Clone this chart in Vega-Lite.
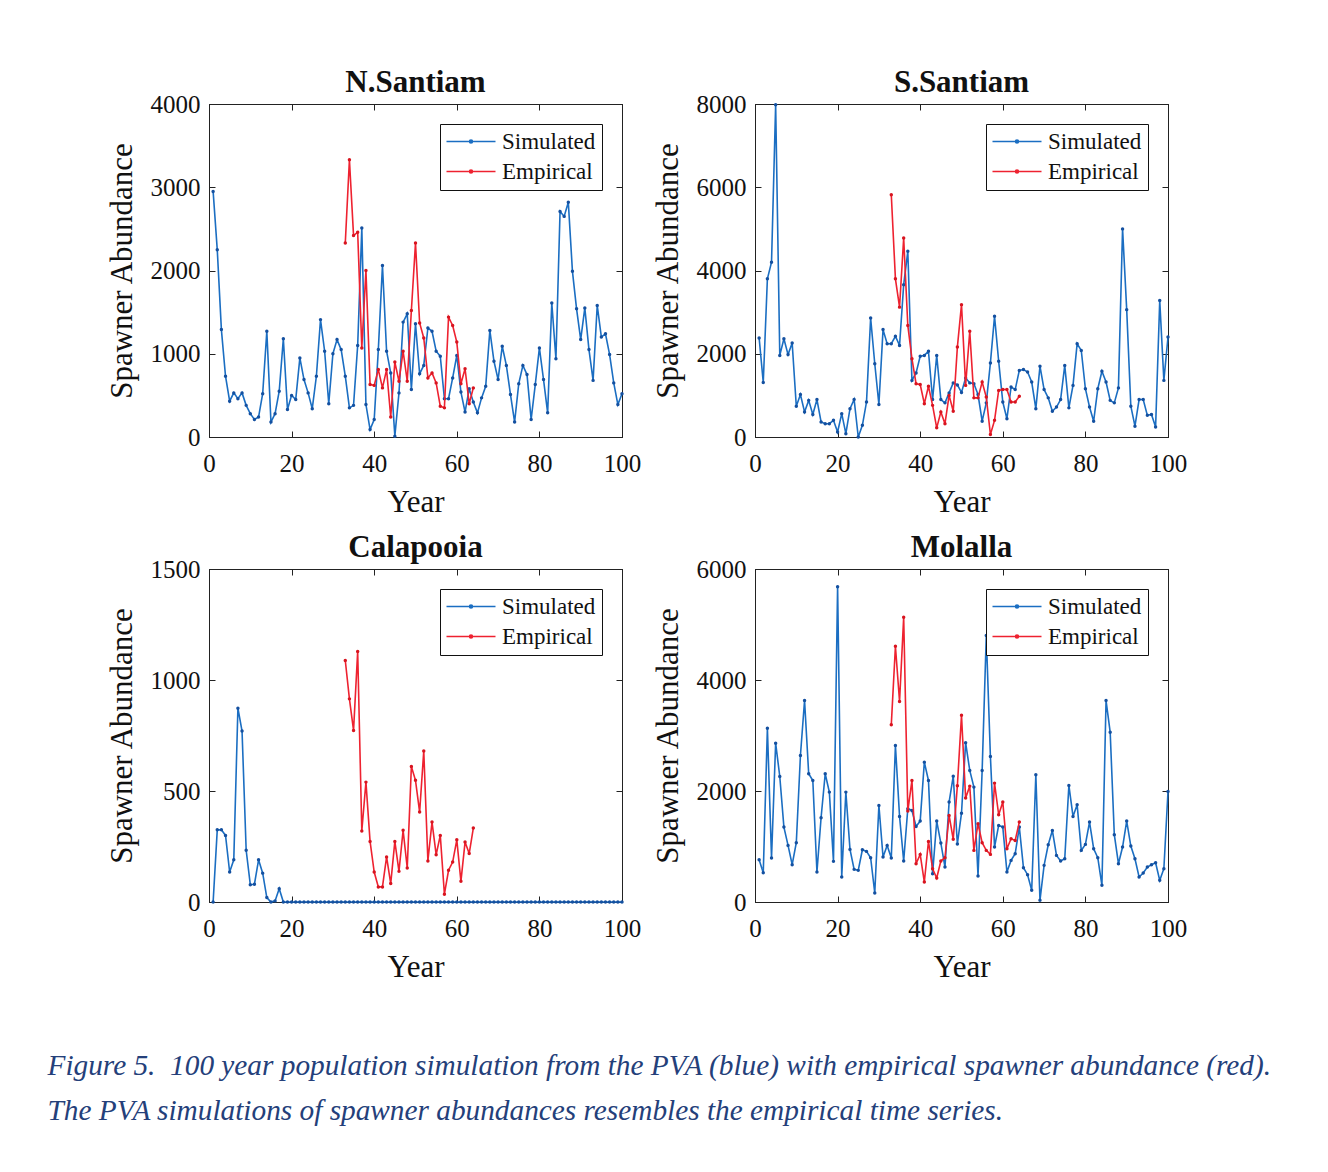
{
  "$schema": "https://vega.github.io/schema/vega-lite/v6.json",
  "background": "white",
  "padding": {"left": 47, "top": 66, "right": 20, "bottom": 20},
  "title": {
    "text": ["Figure 5.\u00a0 100 year population simulation from the PVA (blue) with empirical spawner abundance (red).", "The PVA simulations of spawner abundances resembles the empirical time series."],
    "orient": "bottom", "anchor": "start", "frame": "bounds",
    "font": "Liberation Serif", "fontStyle": "italic", "fontWeight": "normal", "fontSize": 29.3,
    "color": "#24407a", "lineHeight": 45, "offset": 69, "dx": -58
  },
  "datasets": {
    "ns": [
      {"s":"Simulated","x":1,"y":2950},{"s":"Simulated","x":2,"y":2250},{"s":"Simulated","x":3,"y":1290},{"s":"Simulated","x":4,"y":730},{"s":"Simulated","x":5,"y":430},{"s":"Simulated","x":6,"y":530},{"s":"Simulated","x":7,"y":460},{"s":"Simulated","x":8,"y":530},{"s":"Simulated","x":9,"y":380},{"s":"Simulated","x":10,"y":280},
      {"s":"Simulated","x":11,"y":210},{"s":"Simulated","x":12,"y":240},{"s":"Simulated","x":13,"y":520},{"s":"Simulated","x":14,"y":1270},{"s":"Simulated","x":15,"y":180},{"s":"Simulated","x":16,"y":280},{"s":"Simulated","x":17,"y":550},{"s":"Simulated","x":18,"y":1180},{"s":"Simulated","x":19,"y":330},{"s":"Simulated","x":20,"y":500},
      {"s":"Simulated","x":21,"y":450},{"s":"Simulated","x":22,"y":950},{"s":"Simulated","x":23,"y":690},{"s":"Simulated","x":24,"y":530},{"s":"Simulated","x":25,"y":340},{"s":"Simulated","x":26,"y":730},{"s":"Simulated","x":27,"y":1410},{"s":"Simulated","x":28,"y":1030},{"s":"Simulated","x":29,"y":400},{"s":"Simulated","x":30,"y":1000},
      {"s":"Simulated","x":31,"y":1170},{"s":"Simulated","x":32,"y":1050},{"s":"Simulated","x":33,"y":730},{"s":"Simulated","x":34,"y":350},{"s":"Simulated","x":35,"y":380},{"s":"Simulated","x":36,"y":1100},{"s":"Simulated","x":37,"y":2510},{"s":"Simulated","x":38,"y":390},{"s":"Simulated","x":39,"y":90},{"s":"Simulated","x":40,"y":210},
      {"s":"Simulated","x":41,"y":1050},{"s":"Simulated","x":42,"y":2060},{"s":"Simulated","x":43,"y":1030},{"s":"Simulated","x":44,"y":770},{"s":"Simulated","x":45,"y":10},{"s":"Simulated","x":46,"y":530},{"s":"Simulated","x":47,"y":1380},{"s":"Simulated","x":48,"y":1480},{"s":"Simulated","x":49,"y":570},{"s":"Simulated","x":50,"y":1360},
      {"s":"Simulated","x":51,"y":760},{"s":"Simulated","x":52,"y":860},{"s":"Simulated","x":53,"y":1310},{"s":"Simulated","x":54,"y":1270},{"s":"Simulated","x":55,"y":1030},{"s":"Simulated","x":56,"y":970},{"s":"Simulated","x":57,"y":460},{"s":"Simulated","x":58,"y":460},{"s":"Simulated","x":59,"y":710},{"s":"Simulated","x":60,"y":980},
      {"s":"Simulated","x":61,"y":540},{"s":"Simulated","x":62,"y":300},{"s":"Simulated","x":63,"y":580},{"s":"Simulated","x":64,"y":420},{"s":"Simulated","x":65,"y":290},{"s":"Simulated","x":66,"y":470},{"s":"Simulated","x":67,"y":610},{"s":"Simulated","x":68,"y":1280},{"s":"Simulated","x":69,"y":910},{"s":"Simulated","x":70,"y":690},
      {"s":"Simulated","x":71,"y":1090},{"s":"Simulated","x":72,"y":860},{"s":"Simulated","x":73,"y":510},{"s":"Simulated","x":74,"y":180},{"s":"Simulated","x":75,"y":640},{"s":"Simulated","x":76,"y":860},{"s":"Simulated","x":77,"y":750},{"s":"Simulated","x":78,"y":210},{"s":"Simulated","x":79,"y":630},{"s":"Simulated","x":80,"y":1070},
      {"s":"Simulated","x":81,"y":690},{"s":"Simulated","x":82,"y":290},{"s":"Simulated","x":83,"y":1610},{"s":"Simulated","x":84,"y":940},{"s":"Simulated","x":85,"y":2710},{"s":"Simulated","x":86,"y":2650},{"s":"Simulated","x":87,"y":2820},{"s":"Simulated","x":88,"y":1990},{"s":"Simulated","x":89,"y":1540},{"s":"Simulated","x":90,"y":1170},
      {"s":"Simulated","x":91,"y":1550},{"s":"Simulated","x":92,"y":1050},{"s":"Simulated","x":93,"y":680},{"s":"Simulated","x":94,"y":1580},{"s":"Simulated","x":95,"y":1200},{"s":"Simulated","x":96,"y":1240},{"s":"Simulated","x":97,"y":990},{"s":"Simulated","x":98,"y":650},{"s":"Simulated","x":99,"y":390},{"s":"Simulated","x":100,"y":520},
      {"s":"Empirical","x":33,"y":2330},{"s":"Empirical","x":34,"y":3330},{"s":"Empirical","x":35,"y":2420},{"s":"Empirical","x":36,"y":2460},{"s":"Empirical","x":37,"y":1070},{"s":"Empirical","x":38,"y":2000},{"s":"Empirical","x":39,"y":630},{"s":"Empirical","x":40,"y":620},
      {"s":"Empirical","x":41,"y":810},{"s":"Empirical","x":42,"y":590},{"s":"Empirical","x":43,"y":810},{"s":"Empirical","x":44,"y":240},{"s":"Empirical","x":45,"y":900},{"s":"Empirical","x":46,"y":670},{"s":"Empirical","x":47,"y":1030},{"s":"Empirical","x":48,"y":670},
      {"s":"Empirical","x":49,"y":1520},{"s":"Empirical","x":50,"y":2330},{"s":"Empirical","x":51,"y":1370},{"s":"Empirical","x":52,"y":1190},{"s":"Empirical","x":53,"y":710},{"s":"Empirical","x":54,"y":770},{"s":"Empirical","x":55,"y":650},{"s":"Empirical","x":56,"y":370},
      {"s":"Empirical","x":57,"y":350},{"s":"Empirical","x":58,"y":1440},{"s":"Empirical","x":59,"y":1340},{"s":"Empirical","x":60,"y":1140},{"s":"Empirical","x":61,"y":640},{"s":"Empirical","x":62,"y":820},{"s":"Empirical","x":63,"y":400},{"s":"Empirical","x":64,"y":590}
    ],
    "ss": [
      {"s":"Simulated","x":1,"y":2380},{"s":"Simulated","x":2,"y":1310},{"s":"Simulated","x":3,"y":3800},{"s":"Simulated","x":4,"y":4200},{"s":"Simulated","x":5,"y":7980},{"s":"Simulated","x":6,"y":1960},{"s":"Simulated","x":7,"y":2360},{"s":"Simulated","x":8,"y":1980},{"s":"Simulated","x":9,"y":2260},{"s":"Simulated","x":10,"y":740},
      {"s":"Simulated","x":11,"y":1020},{"s":"Simulated","x":12,"y":600},{"s":"Simulated","x":13,"y":880},{"s":"Simulated","x":14,"y":540},{"s":"Simulated","x":15,"y":900},{"s":"Simulated","x":16,"y":360},{"s":"Simulated","x":17,"y":320},{"s":"Simulated","x":18,"y":320},{"s":"Simulated","x":19,"y":400},{"s":"Simulated","x":20,"y":120},
      {"s":"Simulated","x":21,"y":560},{"s":"Simulated","x":22,"y":80},{"s":"Simulated","x":23,"y":680},{"s":"Simulated","x":24,"y":900},{"s":"Simulated","x":25,"y":0},{"s":"Simulated","x":26,"y":280},{"s":"Simulated","x":27,"y":840},{"s":"Simulated","x":28,"y":2860},{"s":"Simulated","x":29,"y":1760},{"s":"Simulated","x":30,"y":780},
      {"s":"Simulated","x":31,"y":2580},{"s":"Simulated","x":32,"y":2240},{"s":"Simulated","x":33,"y":2240},{"s":"Simulated","x":34,"y":2420},{"s":"Simulated","x":35,"y":2200},{"s":"Simulated","x":36,"y":3660},{"s":"Simulated","x":37,"y":4460},{"s":"Simulated","x":38,"y":1360},{"s":"Simulated","x":39,"y":1540},{"s":"Simulated","x":40,"y":1940},
      {"s":"Simulated","x":41,"y":1960},{"s":"Simulated","x":42,"y":2060},{"s":"Simulated","x":43,"y":900},{"s":"Simulated","x":44,"y":1960},{"s":"Simulated","x":45,"y":900},{"s":"Simulated","x":46,"y":820},{"s":"Simulated","x":47,"y":1060},{"s":"Simulated","x":48,"y":1300},{"s":"Simulated","x":49,"y":1250},{"s":"Simulated","x":50,"y":1070},
      {"s":"Simulated","x":51,"y":1420},{"s":"Simulated","x":52,"y":1300},{"s":"Simulated","x":53,"y":1280},{"s":"Simulated","x":54,"y":1020},{"s":"Simulated","x":55,"y":380},{"s":"Simulated","x":56,"y":820},{"s":"Simulated","x":57,"y":1780},{"s":"Simulated","x":58,"y":2900},{"s":"Simulated","x":59,"y":1820},{"s":"Simulated","x":60,"y":840},
      {"s":"Simulated","x":61,"y":440},{"s":"Simulated","x":62,"y":1200},{"s":"Simulated","x":63,"y":1140},{"s":"Simulated","x":64,"y":1600},{"s":"Simulated","x":65,"y":1620},{"s":"Simulated","x":66,"y":1560},{"s":"Simulated","x":67,"y":1320},{"s":"Simulated","x":68,"y":680},{"s":"Simulated","x":69,"y":1700},{"s":"Simulated","x":70,"y":1140},
      {"s":"Simulated","x":71,"y":940},{"s":"Simulated","x":72,"y":620},{"s":"Simulated","x":73,"y":720},{"s":"Simulated","x":74,"y":900},{"s":"Simulated","x":75,"y":1720},{"s":"Simulated","x":76,"y":700},{"s":"Simulated","x":77,"y":1240},{"s":"Simulated","x":78,"y":2240},{"s":"Simulated","x":79,"y":2080},{"s":"Simulated","x":80,"y":1160},
      {"s":"Simulated","x":81,"y":720},{"s":"Simulated","x":82,"y":380},{"s":"Simulated","x":83,"y":1160},{"s":"Simulated","x":84,"y":1580},{"s":"Simulated","x":85,"y":1320},{"s":"Simulated","x":86,"y":880},{"s":"Simulated","x":87,"y":820},{"s":"Simulated","x":88,"y":1180},{"s":"Simulated","x":89,"y":5000},{"s":"Simulated","x":90,"y":3060},
      {"s":"Simulated","x":91,"y":740},{"s":"Simulated","x":92,"y":260},{"s":"Simulated","x":93,"y":900},{"s":"Simulated","x":94,"y":900},{"s":"Simulated","x":95,"y":520},{"s":"Simulated","x":96,"y":540},{"s":"Simulated","x":97,"y":240},{"s":"Simulated","x":98,"y":3280},{"s":"Simulated","x":99,"y":1360},{"s":"Simulated","x":100,"y":2400},
      {"s":"Empirical","x":33,"y":5820},{"s":"Empirical","x":34,"y":3800},{"s":"Empirical","x":35,"y":3120},{"s":"Empirical","x":36,"y":4780},{"s":"Empirical","x":37,"y":2680},{"s":"Empirical","x":38,"y":1880},{"s":"Empirical","x":39,"y":1280},{"s":"Empirical","x":40,"y":1260},
      {"s":"Empirical","x":41,"y":800},{"s":"Empirical","x":42,"y":1220},{"s":"Empirical","x":43,"y":760},{"s":"Empirical","x":44,"y":220},{"s":"Empirical","x":45,"y":600},{"s":"Empirical","x":46,"y":320},{"s":"Empirical","x":47,"y":1000},{"s":"Empirical","x":48,"y":620},
      {"s":"Empirical","x":49,"y":2160},{"s":"Empirical","x":50,"y":3180},{"s":"Empirical","x":51,"y":1240},{"s":"Empirical","x":52,"y":2540},{"s":"Empirical","x":53,"y":940},{"s":"Empirical","x":54,"y":940},{"s":"Empirical","x":55,"y":1320},{"s":"Empirical","x":56,"y":960},
      {"s":"Empirical","x":57,"y":60},{"s":"Empirical","x":58,"y":400},{"s":"Empirical","x":59,"y":1120},{"s":"Empirical","x":60,"y":1140},{"s":"Empirical","x":61,"y":1140},{"s":"Empirical","x":62,"y":840},{"s":"Empirical","x":63,"y":840},{"s":"Empirical","x":64,"y":980}
    ],
    "ca": [
      {"s":"Simulated","x":1,"y":0},{"s":"Simulated","x":2,"y":325},{"s":"Simulated","x":3,"y":325},{"s":"Simulated","x":4,"y":300},{"s":"Simulated","x":5,"y":135},{"s":"Simulated","x":6,"y":190},{"s":"Simulated","x":7,"y":873},{"s":"Simulated","x":8,"y":770},{"s":"Simulated","x":9,"y":233},{"s":"Simulated","x":10,"y":78},
      {"s":"Simulated","x":11,"y":80},{"s":"Simulated","x":12,"y":190},{"s":"Simulated","x":13,"y":130},{"s":"Simulated","x":14,"y":20},{"s":"Simulated","x":15,"y":0},{"s":"Simulated","x":16,"y":5},{"s":"Simulated","x":17,"y":60},{"s":"Simulated","x":18,"y":0},{"s":"Simulated","x":19,"y":0},{"s":"Simulated","x":20,"y":0},
      {"s":"Simulated","x":21,"y":0},{"s":"Simulated","x":22,"y":0},{"s":"Simulated","x":23,"y":0},{"s":"Simulated","x":24,"y":0},{"s":"Simulated","x":25,"y":0},{"s":"Simulated","x":26,"y":0},{"s":"Simulated","x":27,"y":0},{"s":"Simulated","x":28,"y":0},{"s":"Simulated","x":29,"y":0},{"s":"Simulated","x":30,"y":0},
      {"s":"Simulated","x":31,"y":0},{"s":"Simulated","x":32,"y":0},{"s":"Simulated","x":33,"y":0},{"s":"Simulated","x":34,"y":0},{"s":"Simulated","x":35,"y":0},{"s":"Simulated","x":36,"y":0},{"s":"Simulated","x":37,"y":0},{"s":"Simulated","x":38,"y":0},{"s":"Simulated","x":39,"y":0},{"s":"Simulated","x":40,"y":0},
      {"s":"Simulated","x":41,"y":0},{"s":"Simulated","x":42,"y":0},{"s":"Simulated","x":43,"y":0},{"s":"Simulated","x":44,"y":0},{"s":"Simulated","x":45,"y":0},{"s":"Simulated","x":46,"y":0},{"s":"Simulated","x":47,"y":0},{"s":"Simulated","x":48,"y":0},{"s":"Simulated","x":49,"y":0},{"s":"Simulated","x":50,"y":0},
      {"s":"Simulated","x":51,"y":0},{"s":"Simulated","x":52,"y":0},{"s":"Simulated","x":53,"y":0},{"s":"Simulated","x":54,"y":0},{"s":"Simulated","x":55,"y":0},{"s":"Simulated","x":56,"y":0},{"s":"Simulated","x":57,"y":0},{"s":"Simulated","x":58,"y":0},{"s":"Simulated","x":59,"y":0},{"s":"Simulated","x":60,"y":0},
      {"s":"Simulated","x":61,"y":0},{"s":"Simulated","x":62,"y":0},{"s":"Simulated","x":63,"y":0},{"s":"Simulated","x":64,"y":0},{"s":"Simulated","x":65,"y":0},{"s":"Simulated","x":66,"y":0},{"s":"Simulated","x":67,"y":0},{"s":"Simulated","x":68,"y":0},{"s":"Simulated","x":69,"y":0},{"s":"Simulated","x":70,"y":0},
      {"s":"Simulated","x":71,"y":0},{"s":"Simulated","x":72,"y":0},{"s":"Simulated","x":73,"y":0},{"s":"Simulated","x":74,"y":0},{"s":"Simulated","x":75,"y":0},{"s":"Simulated","x":76,"y":0},{"s":"Simulated","x":77,"y":0},{"s":"Simulated","x":78,"y":0},{"s":"Simulated","x":79,"y":0},{"s":"Simulated","x":80,"y":0},
      {"s":"Simulated","x":81,"y":0},{"s":"Simulated","x":82,"y":0},{"s":"Simulated","x":83,"y":0},{"s":"Simulated","x":84,"y":0},{"s":"Simulated","x":85,"y":0},{"s":"Simulated","x":86,"y":0},{"s":"Simulated","x":87,"y":0},{"s":"Simulated","x":88,"y":0},{"s":"Simulated","x":89,"y":0},{"s":"Simulated","x":90,"y":0},
      {"s":"Simulated","x":91,"y":0},{"s":"Simulated","x":92,"y":0},{"s":"Simulated","x":93,"y":0},{"s":"Simulated","x":94,"y":0},{"s":"Simulated","x":95,"y":0},{"s":"Simulated","x":96,"y":0},{"s":"Simulated","x":97,"y":0},{"s":"Simulated","x":98,"y":0},{"s":"Simulated","x":99,"y":0},{"s":"Simulated","x":100,"y":0},
      {"s":"Empirical","x":33,"y":1088},{"s":"Empirical","x":34,"y":915},{"s":"Empirical","x":35,"y":773},{"s":"Empirical","x":36,"y":1128},{"s":"Empirical","x":37,"y":320},{"s":"Empirical","x":38,"y":540},{"s":"Empirical","x":39,"y":273},{"s":"Empirical","x":40,"y":135},
      {"s":"Empirical","x":41,"y":68},{"s":"Empirical","x":42,"y":68},{"s":"Empirical","x":43,"y":203},{"s":"Empirical","x":44,"y":83},{"s":"Empirical","x":45,"y":273},{"s":"Empirical","x":46,"y":138},{"s":"Empirical","x":47,"y":323},{"s":"Empirical","x":48,"y":153},
      {"s":"Empirical","x":49,"y":610},{"s":"Empirical","x":50,"y":548},{"s":"Empirical","x":51,"y":405},{"s":"Empirical","x":52,"y":680},{"s":"Empirical","x":53,"y":185},{"s":"Empirical","x":54,"y":360},{"s":"Empirical","x":55,"y":213},{"s":"Empirical","x":56,"y":300},
      {"s":"Empirical","x":57,"y":35},{"s":"Empirical","x":58,"y":143},{"s":"Empirical","x":59,"y":180},{"s":"Empirical","x":60,"y":280},{"s":"Empirical","x":61,"y":93},{"s":"Empirical","x":62,"y":270},{"s":"Empirical","x":63,"y":218},{"s":"Empirical","x":64,"y":333}
    ],
    "mo": [
      {"s":"Simulated","x":1,"y":762},{"s":"Simulated","x":2,"y":528},{"s":"Simulated","x":3,"y":3132},{"s":"Simulated","x":4,"y":792},{"s":"Simulated","x":5,"y":2862},{"s":"Simulated","x":6,"y":2262},{"s":"Simulated","x":7,"y":1350},{"s":"Simulated","x":8,"y":1020},{"s":"Simulated","x":9,"y":672},{"s":"Simulated","x":10,"y":1068},
      {"s":"Simulated","x":11,"y":2640},{"s":"Simulated","x":12,"y":3630},{"s":"Simulated","x":13,"y":2310},{"s":"Simulated","x":14,"y":2190},{"s":"Simulated","x":15,"y":540},{"s":"Simulated","x":16,"y":1518},{"s":"Simulated","x":17,"y":2310},{"s":"Simulated","x":18,"y":1980},{"s":"Simulated","x":19,"y":732},{"s":"Simulated","x":20,"y":5682},
      {"s":"Simulated","x":21,"y":450},{"s":"Simulated","x":22,"y":1980},{"s":"Simulated","x":23,"y":948},{"s":"Simulated","x":24,"y":588},{"s":"Simulated","x":25,"y":570},{"s":"Simulated","x":26,"y":942},{"s":"Simulated","x":27,"y":912},{"s":"Simulated","x":28,"y":798},{"s":"Simulated","x":29,"y":162},{"s":"Simulated","x":30,"y":1740},
      {"s":"Simulated","x":31,"y":810},{"s":"Simulated","x":32,"y":1020},{"s":"Simulated","x":33,"y":792},{"s":"Simulated","x":34,"y":2820},{"s":"Simulated","x":35,"y":1542},{"s":"Simulated","x":36,"y":738},{"s":"Simulated","x":37,"y":1680},{"s":"Simulated","x":38,"y":1650},{"s":"Simulated","x":39,"y":1362},{"s":"Simulated","x":40,"y":1458},
      {"s":"Simulated","x":41,"y":2520},{"s":"Simulated","x":42,"y":2190},{"s":"Simulated","x":43,"y":510},{"s":"Simulated","x":44,"y":1458},{"s":"Simulated","x":45,"y":1062},{"s":"Simulated","x":46,"y":630},{"s":"Simulated","x":47,"y":1800},{"s":"Simulated","x":48,"y":2268},{"s":"Simulated","x":49,"y":1045},{"s":"Simulated","x":50,"y":1600},
      {"s":"Simulated","x":51,"y":2870},{"s":"Simulated","x":52,"y":2370},{"s":"Simulated","x":53,"y":2070},{"s":"Simulated","x":54,"y":468},{"s":"Simulated","x":55,"y":2370},{"s":"Simulated","x":56,"y":4800},{"s":"Simulated","x":57,"y":2622},{"s":"Simulated","x":58,"y":990},{"s":"Simulated","x":59,"y":1380},{"s":"Simulated","x":60,"y":1350},
      {"s":"Simulated","x":61,"y":540},{"s":"Simulated","x":62,"y":750},{"s":"Simulated","x":63,"y":870},{"s":"Simulated","x":64,"y":1350},{"s":"Simulated","x":65,"y":618},{"s":"Simulated","x":66,"y":492},{"s":"Simulated","x":67,"y":210},{"s":"Simulated","x":68,"y":2292},{"s":"Simulated","x":69,"y":30},{"s":"Simulated","x":70,"y":660},
      {"s":"Simulated","x":71,"y":1032},{"s":"Simulated","x":72,"y":1290},{"s":"Simulated","x":73,"y":840},{"s":"Simulated","x":74,"y":738},{"s":"Simulated","x":75,"y":780},{"s":"Simulated","x":76,"y":2100},{"s":"Simulated","x":77,"y":1542},{"s":"Simulated","x":78,"y":1752},{"s":"Simulated","x":79,"y":930},{"s":"Simulated","x":80,"y":1038},
      {"s":"Simulated","x":81,"y":1440},{"s":"Simulated","x":82,"y":960},{"s":"Simulated","x":83,"y":798},{"s":"Simulated","x":84,"y":300},{"s":"Simulated","x":85,"y":3630},{"s":"Simulated","x":86,"y":3060},{"s":"Simulated","x":87,"y":1212},{"s":"Simulated","x":88,"y":690},{"s":"Simulated","x":89,"y":990},{"s":"Simulated","x":90,"y":1458},
      {"s":"Simulated","x":91,"y":1008},{"s":"Simulated","x":92,"y":780},{"s":"Simulated","x":93,"y":450},{"s":"Simulated","x":94,"y":522},{"s":"Simulated","x":95,"y":630},{"s":"Simulated","x":96,"y":672},{"s":"Simulated","x":97,"y":708},{"s":"Simulated","x":98,"y":390},{"s":"Simulated","x":99,"y":600},{"s":"Simulated","x":100,"y":1992},
      {"s":"Empirical","x":33,"y":3192},{"s":"Empirical","x":34,"y":4608},{"s":"Empirical","x":35,"y":3612},{"s":"Empirical","x":36,"y":5130},{"s":"Empirical","x":37,"y":1638},{"s":"Empirical","x":38,"y":2190},{"s":"Empirical","x":39,"y":690},{"s":"Empirical","x":40,"y":858},
      {"s":"Empirical","x":41,"y":360},{"s":"Empirical","x":42,"y":1092},{"s":"Empirical","x":43,"y":600},{"s":"Empirical","x":44,"y":432},{"s":"Empirical","x":45,"y":738},{"s":"Empirical","x":46,"y":798},{"s":"Empirical","x":47,"y":1560},{"s":"Empirical","x":48,"y":1130},
      {"s":"Empirical","x":49,"y":2095},{"s":"Empirical","x":50,"y":3365},{"s":"Empirical","x":51,"y":1872},{"s":"Empirical","x":52,"y":2088},{"s":"Empirical","x":53,"y":930},{"s":"Empirical","x":54,"y":1410},{"s":"Empirical","x":55,"y":1068},{"s":"Empirical","x":56,"y":930},
      {"s":"Empirical","x":57,"y":858},{"s":"Empirical","x":58,"y":2142},{"s":"Empirical","x":59,"y":1572},{"s":"Empirical","x":60,"y":1800},{"s":"Empirical","x":61,"y":960},{"s":"Empirical","x":62,"y":1140},{"s":"Empirical","x":63,"y":1110},{"s":"Empirical","x":64,"y":1440}
    ]
  },
  "columns": 2,
  "spacing": {"column": 133, "row": 132},
  "bounds": "flush",
  "concat": [
    {
      "title": "N.Santiam", "width": 413, "height": 333, "data": {"name": "ns"},
      "layer": [
        {"transform": [{"filter": "datum.s === 'Simulated'"}], "mark": {"type": "line", "strokeWidth": 1.6},
         "encoding": {
           "x": {"field": "x", "type": "quantitative", "scale": {"domain": [0, 100], "nice": false}, "axis": {"orient": "bottom", "values": [0, 20, 40, 60, 80, 100], "format": "d", "title": "Year"}},
           "y": {"field": "y", "type": "quantitative", "scale": {"domain": [0, 4000], "nice": false}, "axis": {"orient": "left", "values": [0, 1000, 2000, 3000, 4000], "format": "d", "title": "Spawner Abundance"}},
           "color": {"field": "s", "type": "nominal", "scale": {"domain": ["Simulated", "Empirical"], "range": ["#1b6ec2", "#ee2230"]}, "legend": {"orient": "top-right"}}}},
        {"transform": [{"filter": "datum.s === 'Simulated'"}], "mark": {"type": "point", "filled": true, "size": 12, "color": "#1450a0", "opacity": 1},
         "encoding": {"x": {"field": "x", "type": "quantitative", "axis": null}, "y": {"field": "y", "type": "quantitative", "axis": null}}},
        {"transform": [{"filter": "datum.s === 'Empirical'"}], "mark": {"type": "line", "strokeWidth": 1.6},
         "encoding": {
           "x": {"field": "x", "type": "quantitative", "axis": {"orient": "top", "values": [0, 20, 40, 60, 80, 100], "labels": false, "title": null}},
           "y": {"field": "y", "type": "quantitative", "axis": {"orient": "right", "values": [0, 1000, 2000, 3000, 4000], "labels": false, "title": null}},
           "color": {"field": "s", "type": "nominal"}}},
        {"transform": [{"filter": "datum.s === 'Empirical'"}], "mark": {"type": "point", "filled": true, "size": 12, "color": "#d8141f", "opacity": 1},
         "encoding": {"x": {"field": "x", "type": "quantitative", "axis": null}, "y": {"field": "y", "type": "quantitative", "axis": null}}}
      ],
      "resolve": {"axis": {"x": "independent", "y": "independent"}}
    },
    {
      "title": "S.Santiam", "width": 413, "height": 333, "data": {"name": "ss"},
      "layer": [
        {"transform": [{"filter": "datum.s === 'Simulated'"}], "mark": {"type": "line", "strokeWidth": 1.6},
         "encoding": {
           "x": {"field": "x", "type": "quantitative", "scale": {"domain": [0, 100], "nice": false}, "axis": {"orient": "bottom", "values": [0, 20, 40, 60, 80, 100], "format": "d", "title": "Year"}},
           "y": {"field": "y", "type": "quantitative", "scale": {"domain": [0, 8000], "nice": false}, "axis": {"orient": "left", "values": [0, 2000, 4000, 6000, 8000], "format": "d", "title": "Spawner Abundance"}},
           "color": {"field": "s", "type": "nominal", "scale": {"domain": ["Simulated", "Empirical"], "range": ["#1b6ec2", "#ee2230"]}, "legend": {"orient": "top-right"}}}},
        {"transform": [{"filter": "datum.s === 'Simulated'"}], "mark": {"type": "point", "filled": true, "size": 12, "color": "#1450a0", "opacity": 1},
         "encoding": {"x": {"field": "x", "type": "quantitative", "axis": null}, "y": {"field": "y", "type": "quantitative", "axis": null}}},
        {"transform": [{"filter": "datum.s === 'Empirical'"}], "mark": {"type": "line", "strokeWidth": 1.6},
         "encoding": {
           "x": {"field": "x", "type": "quantitative", "axis": {"orient": "top", "values": [0, 20, 40, 60, 80, 100], "labels": false, "title": null}},
           "y": {"field": "y", "type": "quantitative", "axis": {"orient": "right", "values": [0, 2000, 4000, 6000, 8000], "labels": false, "title": null}},
           "color": {"field": "s", "type": "nominal"}}},
        {"transform": [{"filter": "datum.s === 'Empirical'"}], "mark": {"type": "point", "filled": true, "size": 12, "color": "#d8141f", "opacity": 1},
         "encoding": {"x": {"field": "x", "type": "quantitative", "axis": null}, "y": {"field": "y", "type": "quantitative", "axis": null}}}
      ],
      "resolve": {"axis": {"x": "independent", "y": "independent"}}
    },
    {
      "title": "Calapooia", "width": 413, "height": 333, "data": {"name": "ca"},
      "layer": [
        {"transform": [{"filter": "datum.s === 'Simulated'"}], "mark": {"type": "line", "strokeWidth": 1.6},
         "encoding": {
           "x": {"field": "x", "type": "quantitative", "scale": {"domain": [0, 100], "nice": false}, "axis": {"orient": "bottom", "values": [0, 20, 40, 60, 80, 100], "format": "d", "title": "Year"}},
           "y": {"field": "y", "type": "quantitative", "scale": {"domain": [0, 1500], "nice": false}, "axis": {"orient": "left", "values": [0, 500, 1000, 1500], "format": "d", "title": "Spawner Abundance"}},
           "color": {"field": "s", "type": "nominal", "scale": {"domain": ["Simulated", "Empirical"], "range": ["#1b6ec2", "#ee2230"]}, "legend": {"orient": "top-right"}}}},
        {"transform": [{"filter": "datum.s === 'Simulated'"}], "mark": {"type": "point", "filled": true, "size": 12, "color": "#1450a0", "opacity": 1},
         "encoding": {"x": {"field": "x", "type": "quantitative", "axis": null}, "y": {"field": "y", "type": "quantitative", "axis": null}}},
        {"transform": [{"filter": "datum.s === 'Empirical'"}], "mark": {"type": "line", "strokeWidth": 1.6},
         "encoding": {
           "x": {"field": "x", "type": "quantitative", "axis": {"orient": "top", "values": [0, 20, 40, 60, 80, 100], "labels": false, "title": null}},
           "y": {"field": "y", "type": "quantitative", "axis": {"orient": "right", "values": [0, 500, 1000, 1500], "labels": false, "title": null}},
           "color": {"field": "s", "type": "nominal"}}},
        {"transform": [{"filter": "datum.s === 'Empirical'"}], "mark": {"type": "point", "filled": true, "size": 12, "color": "#d8141f", "opacity": 1},
         "encoding": {"x": {"field": "x", "type": "quantitative", "axis": null}, "y": {"field": "y", "type": "quantitative", "axis": null}}}
      ],
      "resolve": {"axis": {"x": "independent", "y": "independent"}}
    },
    {
      "title": "Molalla", "width": 413, "height": 333, "data": {"name": "mo"},
      "layer": [
        {"transform": [{"filter": "datum.s === 'Simulated'"}], "mark": {"type": "line", "strokeWidth": 1.6},
         "encoding": {
           "x": {"field": "x", "type": "quantitative", "scale": {"domain": [0, 100], "nice": false}, "axis": {"orient": "bottom", "values": [0, 20, 40, 60, 80, 100], "format": "d", "title": "Year"}},
           "y": {"field": "y", "type": "quantitative", "scale": {"domain": [0, 6000], "nice": false}, "axis": {"orient": "left", "values": [0, 2000, 4000, 6000], "format": "d", "title": "Spawner Abundance"}},
           "color": {"field": "s", "type": "nominal", "scale": {"domain": ["Simulated", "Empirical"], "range": ["#1b6ec2", "#ee2230"]}, "legend": {"orient": "top-right"}}}},
        {"transform": [{"filter": "datum.s === 'Simulated'"}], "mark": {"type": "point", "filled": true, "size": 12, "color": "#1450a0", "opacity": 1},
         "encoding": {"x": {"field": "x", "type": "quantitative", "axis": null}, "y": {"field": "y", "type": "quantitative", "axis": null}}},
        {"transform": [{"filter": "datum.s === 'Empirical'"}], "mark": {"type": "line", "strokeWidth": 1.6},
         "encoding": {
           "x": {"field": "x", "type": "quantitative", "axis": {"orient": "top", "values": [0, 20, 40, 60, 80, 100], "labels": false, "title": null}},
           "y": {"field": "y", "type": "quantitative", "axis": {"orient": "right", "values": [0, 2000, 4000, 6000], "labels": false, "title": null}},
           "color": {"field": "s", "type": "nominal"}}},
        {"transform": [{"filter": "datum.s === 'Empirical'"}], "mark": {"type": "point", "filled": true, "size": 12, "color": "#d8141f", "opacity": 1},
         "encoding": {"x": {"field": "x", "type": "quantitative", "axis": null}, "y": {"field": "y", "type": "quantitative", "axis": null}}}
      ],
      "resolve": {"axis": {"x": "independent", "y": "independent"}}
    }
  ],
  "resolve": {"scale": {"color": "independent"}},
  "config": {
    "font": "Liberation Serif",
    "view": {"stroke": "#222", "strokeWidth": 1},
    "axis": {"labelFont": "Liberation Serif", "labelFontSize": 25, "labelColor": "#111", "titleFont": "Liberation Serif", "titleFontSize": 31, "titleFontWeight": "normal", "titleColor": "#111", "domainColor": "#222", "tickColor": "#222", "tickSize": -6, "grid": false, "labelFlush": false},
    "axisX": {"labelPadding": 20, "titlePadding": 11},
    "axisY": {"labelPadding": 15, "titlePadding": 12},
    "title": {"font": "Liberation Serif", "fontSize": 31, "fontWeight": "bold", "color": "#111", "offset": -7, "anchor": "middle"},
    "legend": {"title": null, "offset": 20, "strokeColor": "#111", "strokeWidth": 1, "fillColor": "white", "padding": 6, "labelFont": "Liberation Serif", "labelFontSize": 23, "labelColor": "#111", "labelOffset": 19.5, "symbolOffset": 13.5, "rowPadding": 6, "symbolType": "M-4.9,0L4.9,0M0.3,0A0.3,0.3,0,1,1,-0.3,0A0.3,0.3,0,1,1,0.3,0", "symbolSize": 100, "symbolStrokeWidth": 1.6, "cornerRadius": 0}
  }
}
